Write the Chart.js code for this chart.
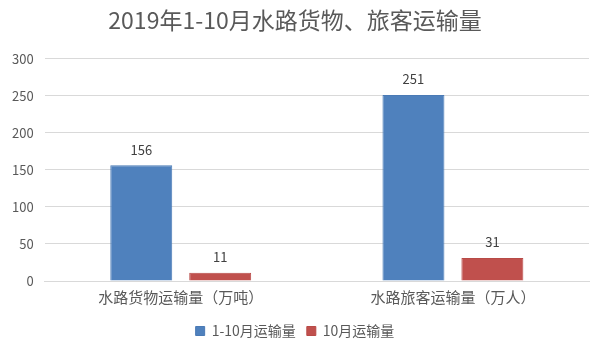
<!DOCTYPE html>
<html><head><meta charset="utf-8">
<script src="https://cdn.jsdelivr.net/npm/chart.js@4/dist/chart.umd.min.js"></script>
<style>html,body{margin:0;padding:0;background:#fff}#wrap{width:600px;height:357px}</style>
</head><body><div id="wrap"><canvas id="c" width="600" height="357"></canvas></div>
<script>
const categories = ["水路货物运输量（万吨）", "水路旅客运输量（万人）"];
const seriesNames = ["1-10月运输量", "10月运输量"];
const cumulative = [156, 251];
const october = [11, 31];
const titleText = "2019年1-10月水路货物、旅客运输量";
const FONT = "'Noto Sans CJK SC', 'Noto Sans', sans-serif";

const labelPlugin = {
  id: 'labels',
  afterDatasetsDraw(chart) {
    const ctx = chart.ctx;
    ctx.save();
    ctx.fillStyle = '#404040';
    ctx.font = "13px " + FONT;
    ctx.textAlign = 'center';
    ctx.textBaseline = 'bottom';
    chart.data.datasets.forEach((ds, i) => {
      const meta = chart.getDatasetMeta(i);
      meta.data.forEach((bar, j) => {
        ctx.fillText(String(ds.data[j]), bar.x, bar.y - 9);
      });
    });
    ctx.restore();
  }
};

new Chart(document.getElementById('c'), {
  type: 'bar',
  data: {
    labels: categories,
    datasets: [
      { label: seriesNames[0], data: cumulative, backgroundColor: '#4f81bd', borderColor: '#4a7ab5', borderWidth: 1 },
      { label: seriesNames[1], data: october, backgroundColor: '#c0504d', borderColor: '#b84a47', borderWidth: 1 }
    ]
  },
  options: {
    responsive: false,
    animation: false,
    layout: { padding: { left: 1, right: 11, top: 0, bottom: 9 } },
    datasets: { bar: { categoryPercentage: 0.58, barPercentage: 0.785 } },
    scales: {
      x: {
        grid: { display: false, drawTicks: false },
        border: { color: '#d9d9d9' },
        ticks: { color: '#595959', font: { family: FONT, size: 15 }, padding: 7 }
      },
      y: {
        min: 0, max: 300,
        ticks: { stepSize: 50, color: '#595959', font: { family: FONT, size: 13 }, padding: 11 },
        grid: { color: '#d9d9d9', drawTicks: false },
        border: { display: false }
      }
    },
    plugins: {
      title: { display: true, text: titleText, color: '#595959', font: { family: FONT, size: 23, weight: 'normal' }, padding: { top: 6, bottom: 25 } },
      legend: { position: 'bottom', labels: { boxWidth: 9, boxHeight: 9, color: '#595959', font: { family: FONT, size: 14 }, padding: 11 } },
      tooltip: { enabled: false }
    }
  },
  plugins: [labelPlugin]
});
</script></body></html>
